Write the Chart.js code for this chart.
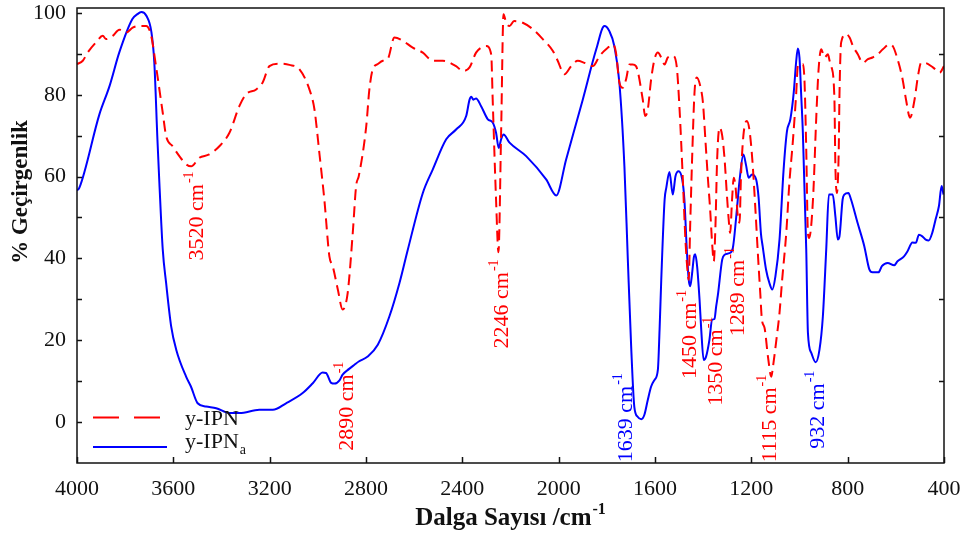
<!DOCTYPE html>
<html lang="tr">
<head>
  <meta charset="UTF-8" />
  <title>FTIR spektrumu: y-IPN ve y-IPNa</title>
  <script src="https://cdn.jsdelivr.net/npm/chart.js"></script>
  <style>
    html, body { margin: 0; padding: 0; background: #fff; }
    canvas { display: block; }
  </style>
</head>
<body>
  <canvas id="ftirChart" width="965" height="533"></canvas>

  <script>
    // y-IPN (red, dashed)
    const ipnWave = [
      4000, 3976, 3956, 3921, 3893, 3879, 3852, 3824, 3796, 3769, 3741, 3713, 3692, 3672, 3644, 3630,
      3603, 3575, 3547, 3526, 3492, 3451, 3409, 3367, 3326, 3298, 3256, 3229, 3201, 3160, 3118, 3076,
      3035, 3014, 2993, 2973, 2952, 2938, 2917, 2897, 2876, 2855, 2841, 2830, 2799, 2786, 2772, 2751,
      2730, 2710, 2682, 2647, 2606, 2564, 2523, 2481, 2426, 2398, 2370, 2343, 2322, 2301, 2280, 2274,
      2260, 2250, 2239, 2229, 2218, 2204, 2185, 2149, 2107, 2066, 2024, 2004, 1976, 1948, 1921, 1893,
      1858, 1830, 1796, 1775, 1762, 1748, 1734, 1720, 1706, 1693, 1679, 1651, 1641, 1630, 1616, 1602,
      1588, 1574, 1560, 1547, 1526, 1510, 1498, 1485, 1473, 1464, 1460, 1454, 1446, 1436, 1427, 1412,
      1401, 1390, 1381, 1371, 1362, 1356, 1349, 1342, 1332, 1321, 1311, 1302, 1294, 1288, 1280, 1273,
      1266, 1256, 1249, 1243, 1233, 1219, 1208, 1196, 1183, 1173, 1163, 1156, 1145, 1131, 1117, 1110,
      1096, 1083, 1072, 1055, 1042, 1028, 1014, 1007, 1000, 986, 979, 972, 965, 960, 944, 930,
      921, 910, 896, 882, 875, 868, 855, 851, 845, 837, 834, 827, 806, 792, 778, 758,
      737, 716, 697, 675, 654, 627, 613, 593, 572, 558, 541, 522, 508, 495, 481, 446,
      418, 400
    ];
    const ipnT = [
      87.5, 88.3, 90.3, 92.8, 94.4, 93.6, 94.4, 95.9, 95.2, 96.4, 96.8, 96.8, 94.4, 87.0, 75.6, 69.9,
      67.4, 65.0, 63.0, 62.5, 64.6, 65.4, 67.4, 70.7, 77.2, 80.1, 81.3, 83.0, 87.0, 87.6, 87.3, 86.2,
      81.3, 76.4, 65.4, 54.4, 40.5, 38.1, 32.4, 27.5, 31.6, 46.2, 57.7, 60.1, 72.3, 81.3, 86.2, 87.5,
      88.3, 88.7, 94.0, 93.2, 91.5, 90.3, 88.3, 88.3, 87.0, 85.8, 86.7, 90.3, 91.5, 91.9, 89.8, 78.9,
      54.4, 41.5, 70.7, 99.7, 97.6, 96.8, 98.0, 97.6, 96.0, 93.6, 90.7, 88.3, 85.0, 87.0, 88.3, 87.8,
      87.0, 89.5, 91.5, 92.3, 90.3, 83.0, 81.7, 83.8, 87.4, 87.4, 87.0, 78.9, 74.8, 76.4, 83.8, 88.7,
      90.3, 89.1, 87.4, 89.1, 89.5, 87.0, 76.4, 60.1, 43.8, 36.4, 34.8, 47.9, 64.2, 80.5, 84.2, 82.1,
      78.1, 68.3, 60.1, 51.9, 43.0, 39.3, 47.9, 64.2, 72.0, 70.0, 64.2, 56.0, 49.5, 46.2, 54.4, 59.7,
      57.7, 50.3, 48.7, 60.1, 70.0, 73.6, 71.5, 64.2, 51.9, 41.3, 31.6, 25.0, 23.0, 16.0, 11.1, 13.6,
      20.1, 26.7, 34.8, 46.2, 58.5, 68.3, 80.0, 87.0, 87.5, 87.5, 83.0, 66.6, 46.2, 45.0, 54.4, 75.0,
      86.0, 91.1, 89.1, 89.9, 88.3, 87.0, 78.9, 62.5, 56.0, 66.6, 80.0, 92.8, 94.8, 94.0, 91.9, 89.9,
      87.8, 88.7, 89.1, 89.9, 91.1, 92.3, 91.9, 88.7, 83.8, 78.9, 74.4, 78.9, 84.6, 87.8, 87.8, 86.7,
      85.4, 87.0
    ];

    // y-IPNa (blue, solid)
    const ipnaWave = [
      4000, 3990, 3907, 3865, 3824, 3770, 3749, 3733, 3712, 3691, 3679, 3666, 3658, 3644, 3630, 3609,
      3588, 3547, 3527, 3499, 3464, 3422, 3367, 3325, 3243, 3187, 3132, 3063, 3021, 2980, 2966, 2945,
      2930, 2910, 2897, 2870, 2848, 2830, 2793, 2751, 2703, 2661, 2627, 2564, 2523, 2467, 2426, 2384,
      2370, 2363, 2354, 2343, 2322, 2294, 2274, 2260, 2249, 2239, 2229, 2204, 2135, 2052, 2010, 1969,
      1900, 1844, 1810, 1790, 1769, 1748, 1727, 1713, 1699, 1686, 1672, 1657, 1644, 1630, 1616, 1602,
      1588, 1581, 1574, 1560, 1553, 1540, 1526, 1515, 1502, 1487, 1478, 1468, 1460, 1454, 1447, 1438,
      1433, 1425, 1415, 1408, 1398, 1388, 1374, 1363, 1353, 1346, 1339, 1321, 1311, 1291, 1277, 1263,
      1249, 1233, 1222, 1211, 1197, 1180, 1170, 1160, 1153, 1139, 1125, 1113, 1100, 1083, 1066, 1052,
      1038, 1024, 1014, 1007, 1000, 993, 986, 972, 965, 951, 933, 917, 903, 889, 878, 862,
      851, 841, 834, 821, 814, 797, 786, 759, 731, 710, 697, 672, 658, 634, 607, 593,
      566, 552, 531, 517, 504, 490, 476, 463, 449, 435, 421, 410, 402
    ];
    const ipnaT = [
      56.6, 57.3, 75.2, 82.1, 90.4, 98.5, 99.7, 100.2, 99.3, 95.3, 87.9, 69.0, 58.5, 42.2, 34.0, 23.4,
      17.7, 11.1, 8.7, 4.6, 3.8, 3.4, 2.2, 2.2, 3.0, 3.0, 4.6, 7.1, 9.5, 12.1, 12.0, 9.6,
      9.4, 10.2, 11.6, 13.0, 14.0, 14.8, 16.0, 18.9, 25.8, 34.0, 42.0, 56.0, 61.7, 69.1, 71.5, 74.8,
      78.8, 79.5, 78.8, 79.1, 77.2, 74.0, 73.2, 70.7, 67.0, 69.1, 70.3, 68.3, 65.0, 59.3, 55.4, 64.2,
      78.8, 91.1, 96.8, 95.6, 91.9, 83.0, 62.5, 40.0, 18.5, 3.8, 1.3, 0.7, 1.8, 5.4, 8.7, 10.3,
      12.8, 22.6, 34.8, 54.4, 57.3, 61.1, 55.6, 60.1, 61.3, 59.3, 54.4, 42.2, 34.8, 33.2, 35.8, 40.5,
      41.0, 38.0, 29.9, 22.6, 15.2, 16.0, 20.1, 25.0, 25.2, 28.3, 31.0, 39.7, 40.9, 41.3, 42.5, 50.0,
      59.0, 65.4, 62.8, 59.7, 60.5, 59.3, 55.0, 46.0, 43.0, 37.3, 34.0, 32.4, 35.6, 44.6, 61.7, 71.1,
      74.0, 80.5, 88.0, 91.3, 89.0, 80.0, 70.7, 42.2, 21.8, 16.9, 14.6, 17.7, 25.8, 42.2, 55.6, 55.6,
      50.3, 44.6, 45.4, 54.4, 55.6, 56.0, 54.4, 48.7, 43.0, 37.3, 36.6, 36.6, 38.1, 38.9, 38.3, 39.3,
      40.5, 41.7, 43.9, 43.8, 45.8, 45.4, 44.6, 44.4, 46.2, 49.5, 52.8, 57.7, 55.6
    ];

    const xTicks = [4000, 3600, 3200, 2800, 2400, 2000, 1600, 1200, 800, 400];
    const yTicks = [0, 20, 40, 60, 80, 100];
    const yMinor = [10, 30, 50, 70, 90];

    // peak labels: text, wavenumber of label, %T where the text starts, colour
    const peakText = ['3520', '2890', '2246', '1639', '1450', '1350', '1289', '1115', '932'];
    const peakWave = [3500, 2878, 2236, 1718, 1453, 1345, 1254, 1121, 922];
    const peakStart = [39.5, -7, 18, -9.8, 10.5, 4, 21, -9.8, -6.5];
    const peakColor = ['red', 'red', 'red', 'blue', 'red', 'red', 'red', 'red', 'blue'];

    const RED = '#ff0000';
    const BLUE = '#0000ff';
    const SERIF = "'Liberation Serif', 'DejaVu Serif', serif";

    function toXY(xs, ys) {
      return xs.map((x, i) => ({ x: x, y: ys[i] }));
    }

    // text with a raised or lowered small part
    function drawWithScript(ctx, base, extra, size, bold, shift) {
      ctx.font = (bold ? 'bold ' : '') + size + 'px ' + SERIF;
      ctx.fillText(base, 0, 0);
      const bw = ctx.measureText(base).width;
      ctx.font = (bold ? 'bold ' : '') + Math.round(size * 0.62) + 'px ' + SERIF;
      ctx.fillText(extra, bw + 1, shift);
      return bw + 1 + ctx.measureText(extra).width;
    }

    function scriptWidth(ctx, base, extra, size, bold) {
      ctx.font = (bold ? 'bold ' : '') + size + 'px ' + SERIF;
      const bw = ctx.measureText(base).width;
      ctx.font = (bold ? 'bold ' : '') + Math.round(size * 0.62) + 'px ' + SERIF;
      return bw + 1 + ctx.measureText(extra).width;
    }

    const decorations = {
      id: 'decorations',
      afterDatasetsDraw(chart) {
        const { ctx, chartArea: a, scales: { x, y } } = chart;
        ctx.save();
        ctx.strokeStyle = '#111';
        ctx.lineWidth = 1.5;
        ctx.strokeRect(a.left, a.top, a.right - a.left, a.bottom - a.top);
        ctx.beginPath();
        xTicks.forEach(v => {
          const p = Math.round(x.getPixelForValue(v)) + 0.5;
          ctx.moveTo(p, a.bottom);
          ctx.lineTo(p, a.bottom - 6);
        });
        yTicks.concat(yMinor).forEach(v => {
          const p = Math.round(y.getPixelForValue(v)) + 0.5;
          ctx.moveTo(a.left, p);
          ctx.lineTo(a.left + 5, p);
        });
        yMinor.forEach(v => {
          const p = Math.round(y.getPixelForValue(v)) + 0.5;
          ctx.moveTo(a.right, p);
          ctx.lineTo(a.right - 5, p);
        });
        ctx.stroke();
        ctx.restore();
      },
      afterDraw(chart) {
        const { ctx, chartArea: a, scales: { x, y } } = chart;

        // peak labels, rotated
        peakText.forEach((t, i) => {
          ctx.save();
          ctx.fillStyle = peakColor[i] === 'red' ? RED : BLUE;
          ctx.translate(x.getPixelForValue(peakWave[i]), y.getPixelForValue(peakStart[i]));
          ctx.rotate(-Math.PI / 2);
          ctx.textAlign = 'left';
          ctx.textBaseline = 'middle';
          drawWithScript(ctx, t + ' cm', '-1', 22, false, -8);
          ctx.restore();
        });

        // legend
        const sets = chart.data.datasets;
        ctx.save();
        ctx.lineWidth = 2;
        ctx.strokeStyle = RED;
        ctx.setLineDash([26, 15]);
        ctx.beginPath();
        ctx.moveTo(a.left + 16, 417.5);
        ctx.lineTo(a.left + 86, 417.5);
        ctx.stroke();
        ctx.setLineDash([]);
        ctx.strokeStyle = BLUE;
        ctx.beginPath();
        ctx.moveTo(a.left + 16, 447);
        ctx.lineTo(a.left + 90, 447);
        ctx.stroke();
        ctx.fillStyle = '#111';
        ctx.textBaseline = 'alphabetic';
        ctx.textAlign = 'left';
        ctx.font = '22px ' + SERIF;
        ctx.fillText(sets[0].label, a.left + 108, 425);
        ctx.translate(a.left + 108, 448);
        drawWithScript(ctx, sets[1].label, 'a', 22, false, 6);
        ctx.restore();

        // x axis title
        ctx.save();
        ctx.fillStyle = '#111';
        ctx.textAlign = 'left';
        ctx.textBaseline = 'alphabetic';
        const tw = scriptWidth(ctx, 'Dalga Sayısı /cm', '-1', 25, true);
        ctx.translate((a.left + a.right) / 2 - tw / 2, 525);
        drawWithScript(ctx, 'Dalga Sayısı /cm', '-1', 25, true, -11);
        ctx.restore();

        // y axis title
        ctx.save();
        ctx.fillStyle = '#111';
        ctx.translate(27, 192);
        ctx.rotate(-Math.PI / 2);
        ctx.textAlign = 'center';
        ctx.textBaseline = 'alphabetic';
        ctx.font = 'bold 23px ' + SERIF;
        ctx.fillText('% Geçirgenlik', 0, 0);
        ctx.restore();
      }
    };

    const ctx = document.getElementById('ftirChart').getContext('2d');
    const chart = new Chart(ctx, {
      type: 'line',
      data: {
        datasets: [
          {
            label: 'y-IPN',
            data: toXY(ipnWave, ipnT),
            borderColor: RED,
            borderWidth: 2,
            borderDash: [11, 6],
            pointRadius: 0,
            fill: false,
            cubicInterpolationMode: 'monotone'
          },
          {
            label: 'y-IPN',
            data: toXY(ipnaWave, ipnaT),
            borderColor: BLUE,
            borderWidth: 2,
            pointRadius: 0,
            fill: false,
            cubicInterpolationMode: 'monotone'
          }
        ]
      },
      options: {
        responsive: false,
        animation: false,
        devicePixelRatio: 1,
        layout: { padding: { top: 8, right: 21, left: 0, bottom: 0 } },
        plugins: {
          legend: { display: false },
          tooltip: { enabled: false },
          title: { display: false }
        },
        scales: {
          x: {
            type: 'linear',
            reverse: true,
            min: 400,
            max: 4000,
            afterBuildTicks: s => { s.ticks = xTicks.map(v => ({ value: v })); },
            afterFit: s => { s.height = 70; s.paddingLeft = 0; s.paddingRight = 0; },
            grid: { display: false, drawTicks: false },
            border: { display: false },
            ticks: {
              padding: 13,
              color: '#111',
              autoSkip: false,
              maxRotation: 0,
              font: { family: SERIF, size: 22 },
              callback: v => String(v)
            }
          },
          y: {
            min: -10,
            max: 101.2,
            afterBuildTicks: s => { s.ticks = yTicks.map(v => ({ value: v })); },
            afterFit: s => { s.width = 77; s.paddingTop = 0; s.paddingBottom = 0; },
            grid: { display: false, drawTicks: false },
            border: { display: false },
            ticks: {
              padding: 11,
              color: '#111',
              font: { family: SERIF, size: 22 },
              callback: v => String(v)
            }
          }
        }
      },
      plugins: [decorations]
    });
  </script>
</body>
</html>
